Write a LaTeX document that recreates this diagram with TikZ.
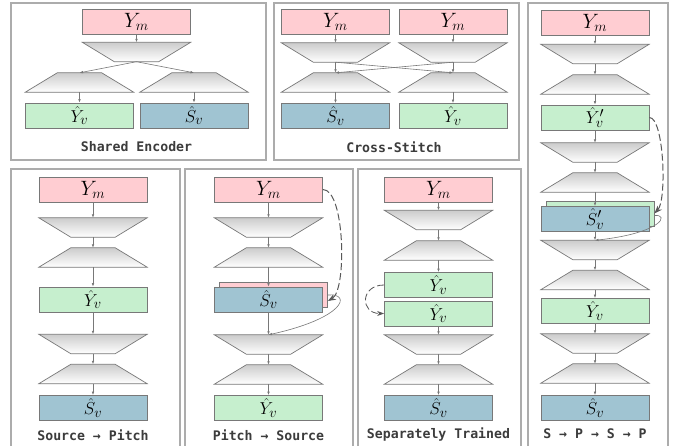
\documentclass[tikz,border=0pt]{standalone}
\usepackage{fontspec}
\newfontfamily\monolabel{DejaVu Sans Mono}
\usetikzlibrary{arrows.meta}
\definecolor{mixpink}{RGB}{255,205,210}
\definecolor{vocgreen}{RGB}{198,239,206}
\definecolor{srcblue}{RGB}{160,196,210}
\definecolor{edgegray}{RGB}{120,120,120}
\definecolor{framegray}{RGB}{172,172,172}
\definecolor{textgray}{RGB}{60,60,60}
\tikzset{
  box/.style={rectangle, draw=edgegray, line width=0.8pt, minimum width=108pt,
    minimum height=25pt, inner sep=0pt, font=\fontsize{19}{19}\selectfont},
  mix/.style={box, fill=mixpink, font=\fontsize{22}{22}\selectfont},
  voc/.style={box, fill=vocgreen},
  src/.style={box, fill=srcblue},
  coder/.style={rectangle, minimum width=108pt, minimum height=19pt, inner sep=0pt},
  trap/.style={draw=edgegray, line width=0.7pt, top color=gray!40, bottom color=white},
  enc/.style={coder, append after command={\pgfextra{\shade[trap]
    (\tikzlastnode.north west) -- (\tikzlastnode.north east)
    -- ([xshift=-32pt]\tikzlastnode.south east) -- ([xshift=32pt]\tikzlastnode.south west) -- cycle;}}},
  dec/.style={coder, append after command={\pgfextra{\shade[trap]
    ([xshift=32pt]\tikzlastnode.north west) -- ([xshift=-32pt]\tikzlastnode.north east)
    -- (\tikzlastnode.south east) -- (\tikzlastnode.south west) -- cycle;}}},
  flow/.style={-{Latex[length=3.5pt,width=2.6pt]}, edgegray, line width=0.6pt},
  hop/.style={-{Stealth[length=8pt,width=6pt]}, black!65, line width=1pt,
    dash pattern=on 7pt off 3pt},
  panel/.style={draw=framegray, line width=1.1pt, fill=white},
  caption/.style={font=\monolabel\bfseries\fontsize{13.2}{14}\selectfont, text=textgray}
}
\begin{document}
\begin{tikzpicture}[x=1pt,y=-1pt]
  \fill[white] (0,0) rectangle (681,446);
  \useasboundingbox (0,0) rectangle (681,446);
  % frames
  \draw[panel] (11,3) rectangle (266,160);
  \draw[panel] (274,3) rectangle (519,160);
  \draw[panel] (528,3) rectangle (668,452);
  \draw[panel] (11,169) rectangle (180,452);
  \draw[panel] (185,169) rectangle (353,452);
  \draw[panel] (358,169) rectangle (521,452);
  % shared encoder
  \node[mix] (se-ym) at (136.5,21.5) {$Y_m$};
  \node[enc] (se-enc) at (136.5,52) {};
  \node[dec] (se-decl) at (79.5,82.5) {};
  \node[dec] (se-decr) at (194,82.5) {};
  \node[voc] (se-yv) at (79.5,115.5) {$\hat{Y}_v$};
  \node[src] (se-sv) at (194,115.5) {$\hat{S}_v$};
  \node[caption] (se-cap) at (136.5,147) {Shared Encoder};
  % cross-stitch
  \node[mix] (cs-yml) at (335.5,21.5) {$Y_m$};
  \node[mix] (cs-ymr) at (453,21.5) {$Y_m$};
  \node[enc] (cs-encl) at (335.5,52.5) {};
  \node[enc] (cs-encr) at (453,52.5) {};
  \node[dec] (cs-decl) at (335.5,82.5) {};
  \node[dec] (cs-decr) at (453,82.5) {};
  \node[src] (cs-sv) at (335.5,116) {$\hat{S}_v$};
  \node[voc] (cs-yv) at (453,116) {$\hat{Y}_v$};
  \node[caption] (cs-cap) at (394,147) {Cross-Stitch};
  % source -> pitch
  \node[mix] (sp-ym) at (93,189.5) {$Y_m$};
  \node[enc] (sp-enc) at (93,227.5) {};
  \node[dec] (sp-dec) at (93,257.5) {};
  \node[voc] (sp-yv) at (93,299.5) {$\hat{Y}_v$};
  \node[enc] (sp-enc2) at (93,344) {};
  \node[dec] (sp-dec2) at (93,374) {};
  \node[src] (sp-sv) at (93,408) {$\hat{S}_v$};
  \node[caption] (sp-cap) at (93,435) {Source → Pitch};
  % pitch -> source
  \node[mix] (ps-ym) at (268.5,189.5) {$Y_m$};
  \node[enc] (ps-enc) at (268.5,227.5) {};
  \node[dec] (ps-dec) at (268.5,257.5) {};
  \node[box, fill=mixpink] (ps-bk) at (273.5,295) {};
  \node[src] (ps-sv) at (268.5,299.5) {$\hat{S}_v$};
  \node[enc] (ps-enc2) at (268.5,344.5) {};
  \node[dec] (ps-dec2) at (268.5,374.5) {};
  \node[voc] (ps-yv) at (268.5,408) {$\hat{Y}_v$};
  \node[caption] (ps-cap) at (268.5,435) {Pitch → Source};
  % separately trained
  \node[mix] (st-ym) at (438.5,190) {$Y_m$};
  \node[enc] (st-enc) at (438.5,220) {};
  \node[dec] (st-dec) at (438.5,250.5) {};
  \node[voc] (st-yv1) at (438.5,285) {$\hat{Y}_v$};
  \node[voc] (st-yv2) at (438.5,313.5) {$\hat{Y}_v$};
  \node[enc] (st-enc2) at (438.5,344.5) {};
  \node[dec] (st-dec2) at (438.5,374.5) {};
  \node[src] (st-sv) at (438.5,408) {$\hat{S}_v$};
  \node[caption] (st-cap) at (438.5,435) {Separately Trained};
  % s -> p -> s -> p
  \node[mix] (rr-ym) at (595,22.5) {$Y_m$};
  \node[enc] (rr-enc1) at (595,54) {};
  \node[dec] (rr-dec1) at (595,84.5) {};
  \node[voc] (rr-yv1) at (595,117.5) {$\hat{Y}_v'$};
  \node[enc] (rr-enc2) at (595,152.5) {};
  \node[dec] (rr-dec2) at (595,182.5) {};
  \node[box, fill=vocgreen] (rr-bk) at (600,213.5) {};
  \node[src] (rr-sv1) at (595,219) {$\hat{S}_v'$};
  \node[enc] (rr-enc3) at (595,250) {};
  \node[dec] (rr-dec3) at (595,280) {};
  \node[voc] (rr-yv) at (595,311) {$\hat{Y}_v$};
  \node[enc] (rr-enc4) at (595,343.5) {};
  \node[dec] (rr-dec4) at (595,373.5) {};
  \node[src] (rr-sv) at (595,408) {$\hat{S}_v$};
  \node[caption] (rr-cap) at (595,434) {S → P → S → P};
  % straight connectors
  \foreach \a/\b in {se-ym/se-enc, se-enc/se-decl, se-enc/se-decr, se-decl/se-yv, se-decr/se-sv,
    cs-yml/cs-encl, cs-ymr/cs-encr, cs-encl/cs-decl, cs-encl/cs-decr, cs-encr/cs-decr,
    cs-encr/cs-decl, cs-decl/cs-sv, cs-decr/cs-yv,
    sp-ym/sp-enc, sp-enc/sp-dec, sp-dec/sp-yv, sp-yv/sp-enc2, sp-enc2/sp-dec2, sp-dec2/sp-sv,
    ps-ym/ps-enc, ps-enc/ps-dec, ps-dec/ps-sv, ps-sv/ps-enc2, ps-enc2/ps-dec2, ps-dec2/ps-yv,
    st-ym/st-enc, st-enc/st-dec, st-dec/st-yv1, st-yv2/st-enc2, st-enc2/st-dec2, st-dec2/st-sv,
    rr-ym/rr-enc1, rr-enc1/rr-dec1, rr-dec1/rr-yv1, rr-yv1/rr-enc2, rr-enc2/rr-dec2,
    rr-dec2/rr-sv1, rr-sv1/rr-enc3, rr-enc3/rr-dec3, rr-dec3/rr-yv, rr-yv/rr-enc4,
    rr-enc4/rr-dec4, rr-dec4/rr-sv}
    \draw[flow] (\a.south) -- (\b.north);
  % curved connectors
  \draw[hop] (ps-ym.east) .. controls (345,189.5) and (347,290) .. ([yshift=-6pt]ps-bk.east);
  \draw[flow] (ps-bk.east) .. controls (352,293) and (345,318) .. (ps-enc2.north);
  \draw[hop, line width=0.8pt, -{Stealth[length=7pt,width=5pt]}] (st-yv1.west)
    .. controls (360,285) and (360,313.5) .. (st-yv2.west);
  \draw[hop] (rr-yv1.east) .. controls (664,117.5) and (667,200) .. (rr-bk.east);
  \draw[flow] ([yshift=-2pt]rr-bk.east) .. controls (670,214) and (662,233) .. (rr-enc3.north);
\end{tikzpicture}
\end{document}
